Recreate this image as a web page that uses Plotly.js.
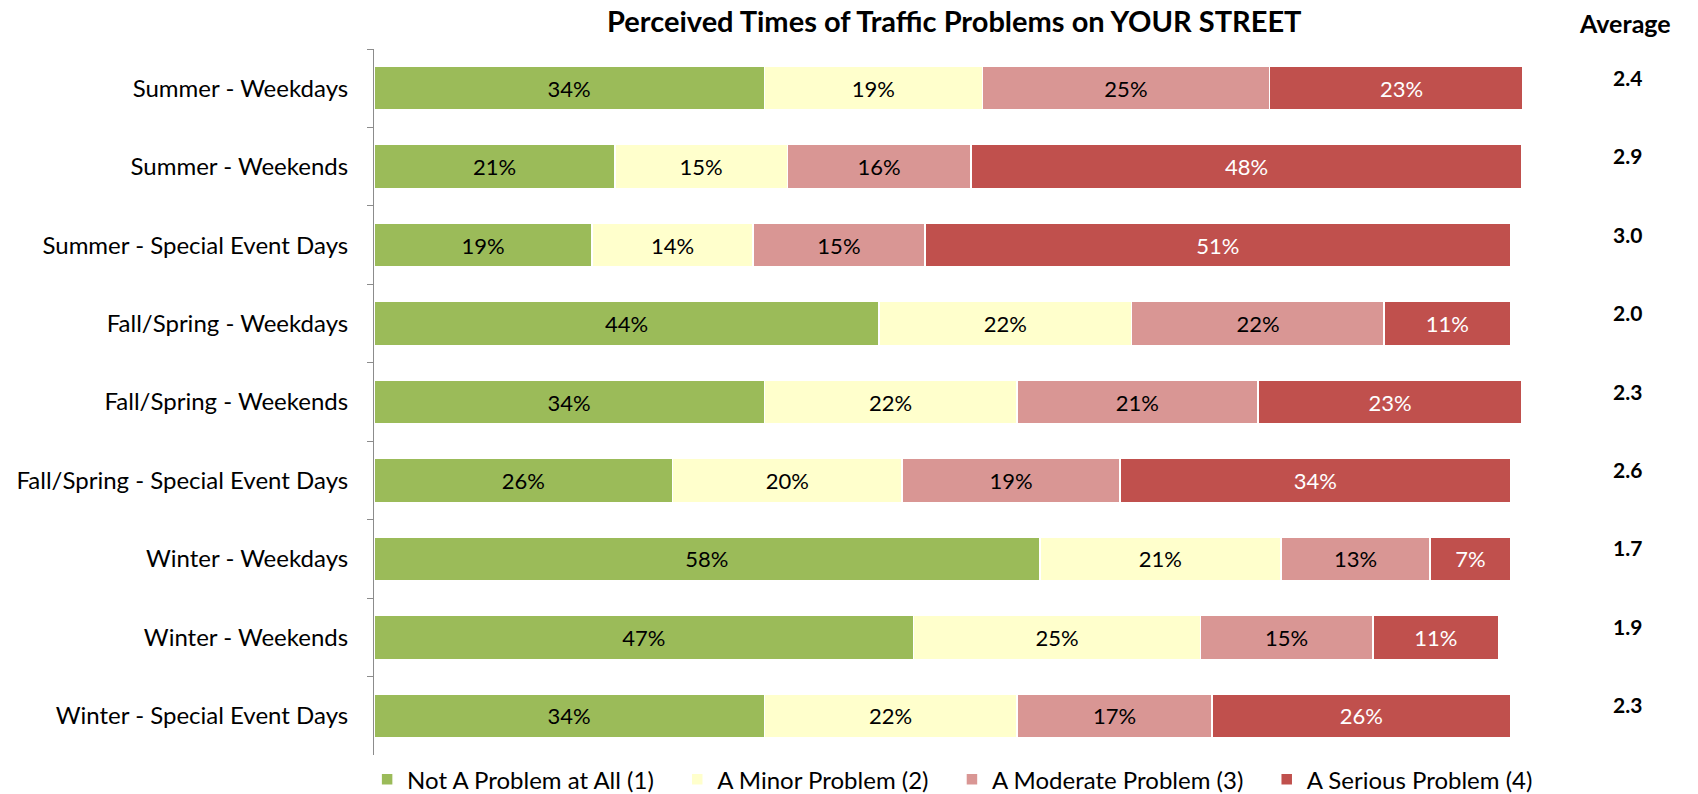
<!DOCTYPE html>
<html>
<head>
<meta charset="utf-8">
<script src="https://cdn.plot.ly/plotly-3.0.1.min.js"></script>
<style>
  html, body { margin: 0; padding: 0; background: #fff; }
  #chart { width: 1698px; height: 794px; }
</style>
</head>
<body>
<div id="chart"></div>
<script>
// Periods, top to bottom
const periods = [
    'Summer - Weekdays',
    'Summer - Weekends',
    'Summer - Special Event Days',
    'Fall/Spring - Weekdays',
    'Fall/Spring - Weekends',
    'Fall/Spring - Special Event Days',
    'Winter - Weekdays',
    'Winter - Weekends',
    'Winter - Special Event Days'
];

// Share of answers (%)
const notAProblem = [34, 21, 19, 44, 34, 26, 58, 47, 34];
const minorProblem = [19, 15, 14, 22, 22, 20, 21, 25, 22];
const moderateProblem = [25, 16, 15, 22, 21, 19, 13, 15, 17];
const seriousProblem = [23, 48, 51, 11, 23, 34, 7, 11, 26];

// Average score per period
const averages = ['2.4', '2.9', '3.0', '2.0', '2.3', '2.6', '1.7', '1.9', '2.3'];

const FONT = 'Lato, "Open Sans", sans-serif';
const PAD = '\u00a0\u00a0\u00a0'; // extra room between legend items

const SERIES = [
    { name: 'Not A Problem at All (1)', values: notAProblem, color: '#9BBB59', text: '#000' },
    { name: 'A Minor Problem (2)', values: minorProblem, color: '#FFFFCC', text: '#000' },
    { name: 'A Moderate Problem (3)', values: moderateProblem, color: '#D99694', text: '#000' },
    { name: 'A Serious Problem (4)', values: seriousProblem, color: '#C0504D', text: '#fff' }
];

const traces = SERIES.map((s, i) => ({
    type: 'bar',
    orientation: 'h',
    name: i < SERIES.length - 1 ? s.name + PAD : s.name,
    y: periods,
    x: s.values,
    marker: { color: s.color, line: { color: '#ffffff', width: 1.5 } },
    text: s.values.map(v => v + '%'),
    textposition: 'inside',
    insidetextanchor: 'middle',
    textfont: { family: FONT, size: 22, color: s.text },
    hoverinfo: 'skip'
}));

// Average column on the right
const annotations = periods.map((p, i) => ({
    xref: 'paper', yref: 'y',
    x: 1.092, y: p,
    xanchor: 'center', yanchor: 'middle',
    yshift: 11,
    text: '<b>' + averages[i] + '</b>',
    showarrow: false,
    font: { family: FONT, size: 21, color: '#000' }
}));
annotations.push({
    xref: 'paper', yref: 'paper',
    x: 1.09, y: 1,
    xanchor: 'center', yanchor: 'middle',
    yshift: 26,
    text: '<b>Average</b>',
    showarrow: false,
    font: { family: FONT, size: 25, color: '#000' }
});

const layout = {
    title: {
        text: '<b>Perceived Times of Traffic Problems on YOUR STREET</b>',
        font: { family: FONT, size: 29, color: '#000' },
        x: 0.562, xanchor: 'center',
        y: 0.972, yanchor: 'middle'
    },
    barmode: 'stack',
    bargap: 0.44,
    paper_bgcolor: '#ffffff',
    plot_bgcolor: '#ffffff',
    font: { family: FONT, color: '#000' },
    margin: { l: 374, r: 176, t: 49, b: 39, autoexpand: false },
    xaxis: {
        range: [0, 100],
        showgrid: false,
        zeroline: false,
        showticklabels: false,
        showline: false,
        fixedrange: true
    },
    yaxis: {
        autorange: 'reversed',
        type: 'category',
        showgrid: false,
        showline: true,
        linecolor: '#8c8c8c',
        linewidth: 1,
        ticks: 'outside',
        tickson: 'boundaries',
        ticklen: 6,
        tickcolor: '#8c8c8c',
        tickfont: { family: FONT, size: 24, color: '#000' },
        ticklabelstandoff: 20,
        automargin: false,
        fixedrange: true
    },
    showlegend: true,
    legend: {
        orientation: 'h',
        x: -0.006, xanchor: 'left',
        y: -0.035, yanchor: 'middle',
        font: { family: FONT, size: 24, color: '#000' },
        itemwidth: 30,
        traceorder: 'normal'
    },
    annotations: annotations
};

Plotly.newPlot('chart', traces, layout, { displayModeBar: false, staticPlot: true });
</script>
</body>
</html>
